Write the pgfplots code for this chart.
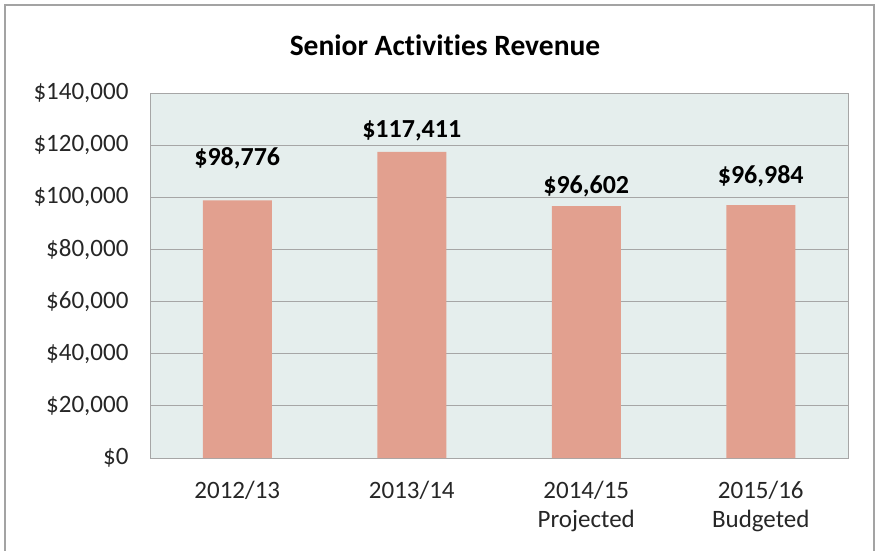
\documentclass[border=0pt]{standalone}
\usepackage{pgfplots}
\pgfplotsset{compat=1.18}
\usepackage{fontspec}
\setmainfont{Carlito}[Ligatures={NoCommon}]
\definecolor{bgc}{HTML}{E5EEED}
\definecolor{barc}{HTML}{E2A08F}
\definecolor{gridc}{HTML}{A6A6A6}
\begin{document}
\begin{tikzpicture}
\path[use as bounding box] (0pt,0pt) rectangle (880pt,550pt);
\draw[color=gray!80!black!60, line width=1.6pt] (5pt,-20pt) rectangle (874pt,545pt);
\node[font=\fontsize{29.5}{34}\selectfont\bfseries] at (445pt,505pt) {Senior Activities Revenue};
\begin{axis}[
  at={(150pt,92pt)}, anchor=south west,
  scale only axis, width=698pt, height=365pt,
  xmin=-0.5, xmax=3.5, ymin=0, ymax=140000,
  axis background/.style={fill=bgc},
  axis line style={gridc, line width=1pt},
  ymajorgrids, grid style={gridc, line width=1pt},
  ytick={0,20000,40000,60000,80000,100000,120000,140000},
  yticklabels={{\$0},{\$20,000},{\$40,000},{\$60,000},{\$80,000},{\$100,000},{\$120,000},{\$140,000}},
  xtick={0,1,2,3},
  xticklabels={{2012/13},{2013/14},{2014/15\\Projected},{2015/16\\Budgeted}},
  xticklabel style={align=center, font=\fontsize{25}{29}\selectfont, text=black!85, anchor=north, yshift=-20pt},
  yticklabel style={font=\fontsize{25}{28}\selectfont, text=black!85, xshift=-18pt},
  tick style={draw=none},
  scaled y ticks=false,
  clip=false,
]
\addplot[ybar, bar width=69pt, fill=barc, draw=none] coordinates {(0,98776) (1,117411) (2,96602) (3,96984)};
\node[font=\fontsize{26}{30}\selectfont\bfseries] at (axis cs:0,115068) {\$98,776};
\node[font=\fontsize{26}{30}\selectfont\bfseries] at (axis cs:1,125425) {\$117,411};
\node[font=\fontsize{26}{30}\selectfont\bfseries] at (axis cs:2,104329) {\$96,602};
\node[font=\fontsize{26}{30}\selectfont\bfseries] at (axis cs:3,108164) {\$96,984};
\end{axis}
\end{tikzpicture}
\end{document}
